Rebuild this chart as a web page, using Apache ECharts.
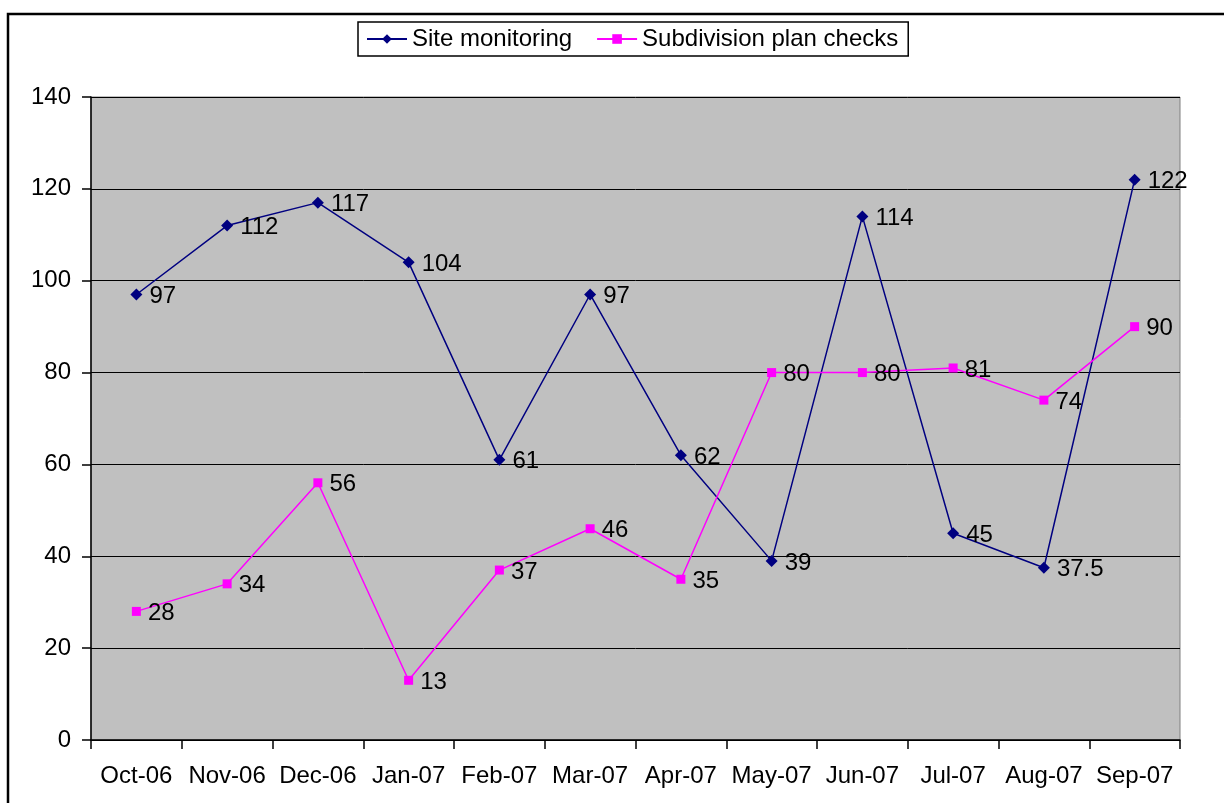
<!DOCTYPE html>
<html>
<head>
<meta charset="utf-8">
<script src="https://cdn.jsdelivr.net/npm/echarts@6/dist/echarts.min.js"></script>
<style>
  html, body { margin: 0; padding: 0; background: #fff; }
  #main { width: 1224px; height: 803px; }
</style>
</head>
<body>
<div id="main"></div>
<script>
// months on the x axis
var months = ['Oct-06', 'Nov-06', 'Dec-06', 'Jan-07', 'Feb-07', 'Mar-07', 'Apr-07', 'May-07', 'Jun-07', 'Jul-07', 'Aug-07', 'Sep-07'];
// series values
var siteMonitoring = [97, 112, 117, 104, 61, 97, 62, 39, 114, 45, 37.5, 122];
var subdivisionChecks = [28, 34, 56, 13, 37, 46, 35, 80, 80, 81, 74, 90];

var chart = echarts.init(document.getElementById('main'));

var labelStyle = {
  show: true,
  position: 'right',
  distance: 7,
  offset: [0, 2],
  color: '#000',
  fontFamily: 'Liberation Sans, Arial, sans-serif',
  fontSize: 24
};

var option = {
  backgroundColor: '#fff',
  animation: false,
  textStyle: { fontFamily: 'Liberation Sans, Arial, sans-serif' },
  // outer chart frame (only left and top edges are visible in the crop)
  graphic: [{
    type: 'rect',
    shape: { x: 8, y: 14, width: 1300, height: 900 },
    style: { fill: 'none', stroke: '#000', lineWidth: 2.5 },
    silent: true
  }],
  legend: {
    left: 358,
    top: 22,
    padding: [5, 10, 5, 8],
    borderColor: '#000',
    borderWidth: 1.5,
    itemWidth: 40,
    itemHeight: 12,
    itemGap: 24,
    textStyle: { color: '#000', fontSize: 24, fontFamily: 'Liberation Sans, Arial, sans-serif' },
    data: ['Site monitoring', 'Subdivision plan checks']
  },
  grid: {
    left: 91,
    top: 97,
    right: 44,
    bottom: 63,
    show: true,
    backgroundColor: '#C0C0C0',
    borderColor: '#808080',
    borderWidth: 1
  },
  xAxis: {
    type: 'category',
    data: months,
    boundaryGap: true,
    axisLine: { lineStyle: { color: '#000', width: 1.5 } },
    axisTick: { show: true, interval: 0, length: 9, lineStyle: { color: '#000', width: 1.5 } },
    axisLabel: { color: '#000', fontSize: 24, margin: 24, interval: 0 }
  },
  yAxis: {
    type: 'value',
    min: 0,
    max: 140,
    interval: 20,
    axisLine: { show: true, lineStyle: { color: '#000', width: 1.5 } },
    axisTick: { show: true, length: 9, lineStyle: { color: '#000', width: 1.5 } },
    axisLabel: { color: '#000', fontSize: 24, margin: 20 },
    splitLine: { show: true, lineStyle: { color: '#000', width: 1 } }
  },
  series: [
    {
      name: 'Site monitoring',
      type: 'line',
      data: siteMonitoring,
      symbol: 'diamond',
      symbolSize: 12,
      color: '#000080',
      lineStyle: { color: '#000080', width: 1.5 },
      itemStyle: { color: '#000080' },
      label: labelStyle
    },
    {
      name: 'Subdivision plan checks',
      type: 'line',
      data: subdivisionChecks,
      symbol: 'rect',
      symbolSize: 9,
      color: '#FF00FF',
      lineStyle: { color: '#FF00FF', width: 1.5 },
      itemStyle: { color: '#FF00FF' },
      label: labelStyle
    }
  ]
};

chart.setOption(option);
</script>
</body>
</html>
